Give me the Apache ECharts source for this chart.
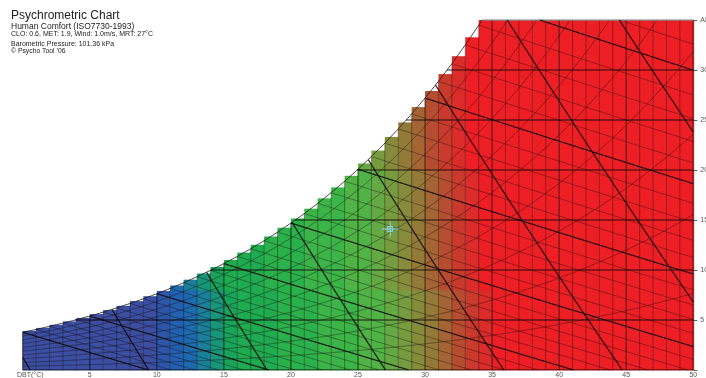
<!DOCTYPE html>
<html>
<head>
<meta charset="utf-8">
<script src="https://cdn.jsdelivr.net/npm/echarts@6/dist/echarts.min.js"></script>
<style>
  html, body { margin: 0; padding: 0; background: #fff; }
  #chart { width: 706px; height: 378px; }
</style>
</head>
<body>
<div id="chart"></div>
<script>
// Barometric pressure (kPa)
const PRESSURE = 101.36;

// Saturation vapour pressure over water (kPa) at each whole degree, 0..50 °C
const satPressure = [
  0.611, 0.657, 0.706, 0.758, 0.813, 0.872, 0.935, 1.002, 1.073, 1.148,
  1.228, 1.313, 1.403, 1.498, 1.599, 1.705, 1.818, 1.938, 2.064, 2.198,
  2.339, 2.487, 2.645, 2.810, 2.985, 3.169, 3.363, 3.567, 3.782, 4.008,
  4.246, 4.496, 4.758, 5.034, 5.324, 5.628, 5.947, 6.281, 6.632, 6.999,
  7.384, 7.786, 8.208, 8.649, 9.111, 9.593, 10.098, 10.624, 11.174, 11.748,
  12.349
];

// Height (g/kg) of each 1 °C comfort strip, 0..49 °C
const columnTop = [
  3.91, 4.21, 4.52, 4.86, 5.21, 5.59, 5.99, 6.42, 6.89, 7.38,
  7.90, 8.45, 9.03, 9.65, 10.30, 11.00, 11.74, 12.52, 13.35, 14.23,
  15.15, 16.13, 17.17, 18.26, 19.42, 20.65, 21.94, 23.31, 24.76, 26.29,
  27.90, 29.59, 31.38, 33.27, 35, 35, 35, 35, 35, 35,
  35, 35, 35, 35, 35, 35, 35, 35, 35, 35
];

// Comfort level of every 1 g/kg cell in each strip, bottom to top (run-length coded)
const comfortColumns = [
  '4a', '5a', '5a', '5a', '6a', '6a', '6a', '7a', '7a', '8a',
  '8b', '8c1d', '8d2e', '8e2f', '8f3g', '8g3h', '12h', '13h', '8h6i', '15i',
  '16i', '8i9j', '18j', '19j', '8j12k', '20k1l', '8k12l2m', '8l12m4n', '8m12n5o', '8n12o7p',
  '8o12p8q', '8p12q10r', '8q12r12s', '8r12s14t', '8s27t', '35t', '35t', '35t', '35t', '35t',
  '35t', '35t', '35t', '35t', '35t', '35t', '35t', '35t', '35t', '35t'
];

// Colour of each comfort level, cold (a) to hot (t)
const comfortLevels = 'abcdefghijklmnopqrst';
const comfortPalette = [
  '#3b4ea2', '#2d56aa', '#2260b1', '#1e6aae', '#1a7f9b', '#17967a', '#19a45c', '#1fab50',
  '#2bb14b', '#3cb548', '#50b346', '#64a943', '#779c40', '#878c3c', '#947a38', '#a46434',
  '#b64d30', '#c93a2d', '#db2c2a', '#ed1f25'
];

// Chart lines
const ahLines = [5, 10, 15, 20, 25, 30];
const rhCurves = [10, 20, 30, 40, 50, 60, 70, 80, 90];
const wetBulbTemps = [];
for (let t = 0; t <= 37; t++) wetBulbTemps.push(t);
const volumeLines = [0.775, 0.8, 0.825, 0.85, 0.875, 0.9, 0.925, 0.95];

// Comfort point: DBT (°C), AH (g/kg)
const comfortPoint = [27.4, 14.1];

const titleLines = [
  { text: 'Psychrometric Chart', size: 12, y: 15.5 },
  { text: 'Human Comfort (ISO7730-1993)', size: 8.5, y: 26.5 },
  { text: 'CLO: 0.6, MET: 1.9, Wind: 1.0m/s, MRT: 27°C', size: 7, y: 34.3 },
  { text: 'Barometric Pressure: 101.36 kPa', size: 7, y: 43.7 },
  { text: '\u00a9 Psycho Tool \u201906', size: 6.8, y: 51 }
];

const FONT = '"Liberation Sans", Arial, Helvetica, sans-serif';
const W_MAX = 35, T_MAX = 50;

// ---- psychrometric relations ----
function vapourPressure(t) {
  const i = Math.max(0, Math.min(Math.floor(t), 49));
  const f = t - i;
  return satPressure[i] + (satPressure[i + 1] - satPressure[i]) * f;
}
function humidityFromPv(pv) { return 622 * pv / (PRESSURE - pv); }
function satHumidity(t) { return humidityFromPv(vapourPressure(t)); }
function ceiling(t) { return Math.min(W_MAX, satHumidity(t)); }
function inside(t, w) {
  return isFinite(w) && t >= -1e-9 && t <= T_MAX + 1e-9 && w >= -1e-6 && w <= ceiling(t) + 1e-6;
}
function bisect(fn, a, b) {
  const aIn = inside(a, fn(a));
  for (let k = 0; k < 40; k++) {
    const m = (a + b) / 2;
    if (inside(m, fn(m)) === aIn) a = m; else b = m;
  }
  return aIn ? a : b;
}
// follow a curve w = fn(t) and keep the parts that lie on the chart
function trace(fn, t0, t1, step) {
  t0 = t0 === undefined ? 0 : t0;
  t1 = t1 === undefined ? T_MAX : t1;
  step = step || 0.05;
  const segs = [];
  let cur = null, prevT = null, prevIn = false;
  for (let t = t0; t <= t1 + 1e-9; t += step) {
    const w = fn(t);
    const ins = inside(t, w);
    if (ins) {
      if (!cur) {
        cur = [];
        if (prevT !== null && !prevIn) {
          const tb = bisect(fn, prevT, t);
          cur.push([tb, Math.max(0, Math.min(ceiling(tb), fn(tb)))]);
        }
      }
      cur.push([t, Math.max(0, w)]);
    } else if (cur) {
      const tb = bisect(fn, prevT, t);
      cur.push([tb, Math.max(0, Math.min(ceiling(tb), fn(tb)))]);
      segs.push(cur);
      cur = null;
    }
    prevT = t; prevIn = ins;
  }
  if (cur && cur.length > 1) segs.push(cur);
  return segs.filter(s => s.length > 1);
}

const rhCurve = phi => t => humidityFromPv(phi * vapourPressure(t));
const wetBulbCurve = twb => t => {
  if (t < twb - 1e-9) return NaN;
  const ws = satHumidity(twb) / 1000;
  return ((2501 - 2.326 * twb) * ws - 1.006 * (t - twb)) / (2501 + 1.86 * t - 4.186 * twb) * 1000;
};
const volumeCurve = v => t => (v * PRESSURE / (0.287 * (t + 273.15)) - 1) / 1.6078 * 1000;

// ---- comfort cells ----
const cells = [];
comfortColumns.forEach((code, t) => {
  let w = 0;
  code.replace(/(\d+)([a-t])/g, (m, n, k) => {
    for (let i = 0; i < +n; i++) {
      if (w < columnTop[t]) cells.push([t, w, Math.min(w + 1, columnTop[t]), comfortLevels.indexOf(k)]);
      w++;
    }
    return m;
  });
});

// ---- line groups ----
const thinLines = [], majorDbt = [], thickLines = [], edgeLines = [];
for (let t = 0; t <= T_MAX; t++) {
  const seg = [[t, 0], [t, ceiling(t)]];
  if (t === T_MAX) edgeLines.push(seg);
  else if (t % 5 === 0) majorDbt.push(seg);
  else thinLines.push(seg);
}
rhCurves.forEach(p => thinLines.push(...trace(rhCurve(p / 100))));
wetBulbTemps.forEach(twb => {
  const segs = trace(wetBulbCurve(twb), twb);
  if (twb % 5 === 0) thickLines.push(...segs); else thinLines.push(...segs);
});
volumeLines.forEach(v => thickLines.push(...trace(volumeCurve(v), 0, T_MAX, 0.02)));
ahLines.forEach(w => thickLines.push(...trace(() => w)));
thickLines.push([[0, 0], [T_MAX, 0]]);
const topLine = trace(() => W_MAX);
const satLine = trace(t => ceiling(t) >= W_MAX ? NaN : satHumidity(t), 0, T_MAX, 0.1);

function linesSeries(segs, style, z) {
  return {
    type: 'lines', coordinateSystem: 'cartesian2d', polyline: true, silent: true, z: z,
    lineStyle: Object.assign({ opacity: 1, cap: 'butt' }, style),
    data: segs.map(s => ({ coords: s }))
  };
}

const chart = echarts.init(document.getElementById('chart'), null, { renderer: 'canvas' });
chart.setOption({
  animation: false,
  grid: { left: 22.7, right: 12.7, top: 20, bottom: 8, containLabel: false, outerBoundsMode: 'none' },
  xAxis: {
    type: 'value', min: 0, max: T_MAX, interval: 5,
    axisLine: { show: false, onZero: false }, axisTick: { show: false }, splitLine: { show: false },
    axisLabel: { fontSize: 7, color: '#555', margin: 2, fontFamily: FONT,
      formatter: v => v === 0 ? '' : String(v) }
  },
  yAxis: {
    type: 'value', position: 'right', min: 0, max: W_MAX, interval: 5,
    axisLine: { show: false, onZero: false }, splitLine: { show: false },
    axisTick: { show: true, length: 4, lineStyle: { color: '#666', width: 1 } },
    axisLabel: { fontSize: 7, color: '#555', margin: 7, fontFamily: FONT,
      formatter: v => v === 0 ? '' : (v === W_MAX ? 'AH(g/kg)' : String(v)) }
  },
  graphic: titleLines.map(l => ({
    type: 'text', x: 11, y: l.y, silent: true,
    style: { text: l.text, fontSize: l.size, fontFamily: FONT, fill: '#222', verticalAlign: 'middle' }
  })).concat([{
    type: 'text', x: 17, y: 375.5, silent: true,
    style: { text: 'DBT(°C)', fontSize: 7, fontFamily: FONT, fill: '#555', verticalAlign: 'middle' }
  }]),
  series: [
    {
      type: 'custom', silent: true, z: 1, data: cells,
      renderItem: (params, api) => {
        const t = api.value(0), w0 = api.value(1), w1 = api.value(2);
        const a = api.coord([t, w1]), b = api.coord([t + 1, w0]);
        return {
          type: 'rect',
          shape: { x: a[0], y: a[1], width: b[0] - a[0] + 0.4, height: b[1] - a[1] + 0.4 },
          style: { fill: comfortPalette[api.value(3)] }
        };
      }
    },
    linesSeries(thinLines, { color: 'rgba(20,10,10,0.38)', width: 1 }, 2),
    linesSeries(majorDbt, { color: 'rgba(15,8,8,0.6)', width: 1.2 }, 3),
    linesSeries(satLine, { color: 'rgba(30,30,30,0.85)', width: 1 }, 3),
    linesSeries(edgeLines, { color: 'rgba(60,0,0,0.5)', width: 2 }, 3),
    linesSeries(topLine, { color: '#8a8a8a', width: 1.5 }, 3),
    linesSeries(thickLines, { color: 'rgba(15,8,8,0.88)', width: 1.2 }, 4),
    {
      type: 'custom', silent: true, z: 6, data: [comfortPoint],
      renderItem: (params, api) => {
        const c = api.coord([api.value(0), api.value(1)]);
        const st = { stroke: '#86d3ee', lineWidth: 1, fill: null };
        return {
          type: 'group', children: [
            { type: 'line', shape: { x1: c[0] - 8.5, y1: c[1], x2: c[0] + 8.5, y2: c[1] }, style: st },
            { type: 'line', shape: { x1: c[0], y1: c[1] - 7.5, x2: c[0], y2: c[1] + 7.5 }, style: st },
            { type: 'rect', shape: { x: c[0] - 2.5, y: c[1] - 2.5, width: 5, height: 5 }, style: st }
          ]
        };
      }
    }
  ]
});
</script>
</body>
</html>
